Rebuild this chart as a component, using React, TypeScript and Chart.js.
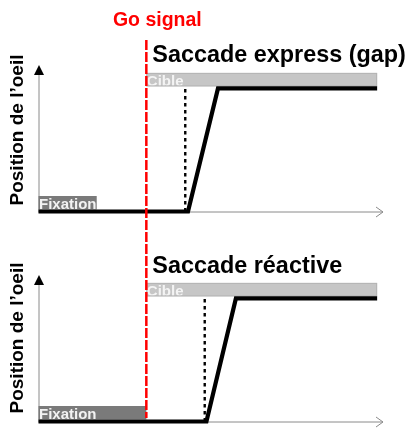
import React, { useEffect, useRef } from "react";
import { Chart, registerables } from "chart.js";
Chart.register(...registerables);

// ---- data (time in arbitrary units 0..100, eye position 0 = fixation, 1 = target) ----
const TIME_MAX = 100;
const POS_MAX = 1.19;
const GO_SIGNAL = 31.3;
const TARGET_END = 98.3;

const expressTimes = [0, 43.4, 52.1, 98.3];
const expressPositions = [0, 0, 1, 1];
const expressLatency = 42.6;
const expressFixationEnd = 16.9;

const reactiveTimes = [0, 48.75, 57.3, 98.3];
const reactivePositions = [0, 0, 1, 1];
const reactiveLatency = 48.25;
const reactiveFixationEnd = GO_SIGNAL;

const panelTitles = ["Saccade express (gap)", "Saccade réactive"];
const yAxisLabel = "Position de l\u2019oeil";
const goLabel = "Go signal";
const fixationLabel = "Fixation";
const targetLabel = "Cible";

const FONT = "'Liberation Sans', Arial, Helvetica, sans-serif";

type PanelProps = {
  width: number;
  height: number;
  padding: { left: number; right: number; top: number; bottom: number };
  times: number[];
  positions: number[];
  latency: number;
  fixationEnd: number;
  title: string;
  titleBaseline: number;
  yLabelCenter: number;
  showGo: boolean;
  redTop: number;
  redBottom: number;
  dashOffset: number;
};

function Panel(p: PanelProps) {
  const ref = useRef<HTMLCanvasElement | null>(null);
  useEffect(() => {
    if (!ref.current) return;
    const plugin = {
      id: "panelDecor",
      beforeDatasetsDraw(chart: any) {
        const { ctx, chartArea, scales } = chart;
        const x = scales.x;
        const y = scales.y;
        ctx.save();
        // axes
        ctx.strokeStyle = "#8a8a8a";
        ctx.lineWidth = 1;
        ctx.beginPath();
        ctx.moveTo(chartArea.left + 0.5, chartArea.bottom + 0.5);
        ctx.lineTo(chartArea.left + 0.5, chartArea.top + 8);
        ctx.moveTo(chartArea.left, chartArea.bottom + 0.5);
        ctx.lineTo(chartArea.right, chartArea.bottom + 0.5);
        ctx.stroke();
        // x arrow chevron
        ctx.beginPath();
        ctx.moveTo(chartArea.right - 7, chartArea.bottom - 4.5);
        ctx.lineTo(chartArea.right, chartArea.bottom + 0.5);
        ctx.lineTo(chartArea.right - 7, chartArea.bottom + 5.5);
        ctx.stroke();
        // y arrow head
        ctx.fillStyle = "#000";
        ctx.beginPath();
        ctx.moveTo(chartArea.left + 0.5, chartArea.top);
        ctx.lineTo(chartArea.left + 5.5, chartArea.top + 10);
        ctx.lineTo(chartArea.left - 4.5, chartArea.top + 10);
        ctx.closePath();
        ctx.fill();

        // boxes
        const boxH = 13.5;
        const drawBox = (x0: number, x1: number, level: number, fill: string, text: string, textColor: string) => {
          const l = x.getPixelForValue(x0);
          const r = x.getPixelForValue(x1);
          const b = y.getPixelForValue(level) - 2;
          ctx.fillStyle = fill;
          ctx.fillRect(l, b - boxH, r - l, boxH);
          ctx.fillStyle = textColor;
          ctx.font = `bold 15px ${FONT}`;
          ctx.textAlign = "left";
          ctx.textBaseline = "alphabetic";
          ctx.fillText(text, l + 0.5, b - 0.5);
        };
        drawBox(0, p.fixationEnd, 0, "#7a7a7a", fixationLabel, "#f2f2f2");
        drawBox(GO_SIGNAL, TARGET_END, 1, "#c6c6c6", targetLabel, "#f4f4f4");
        ctx.strokeStyle = "#b4b4b4";
        ctx.lineWidth = 1;
        {
          const l = x.getPixelForValue(GO_SIGNAL);
          const r = x.getPixelForValue(TARGET_END);
          const b = y.getPixelForValue(1) - 2;
          ctx.strokeRect(l + 0.5, b - boxH + 0.5, r - l - 1, boxH - 1);
        }

        // title
        ctx.fillStyle = "#000";
        ctx.font = `bold 23.4px ${FONT}`;
        ctx.textAlign = "left";
        ctx.textBaseline = "alphabetic";
        ctx.fillText(p.title, x.getPixelForValue(GO_SIGNAL) + 6, p.titleBaseline);

        // y label
        ctx.save();
        ctx.translate(18, p.yLabelCenter);
        ctx.rotate(-Math.PI / 2);
        ctx.font = `bold 19px ${FONT}`;
        ctx.textAlign = "center";
        ctx.textBaseline = "middle";
        ctx.fillText(yAxisLabel, 0, 0);
        ctx.restore();

        // go signal label
        if (p.showGo) {
          ctx.fillStyle = "#ff0000";
          ctx.font = `bold 19.5px ${FONT}`;
          ctx.textAlign = "center";
          ctx.textBaseline = "alphabetic";
          ctx.fillText(goLabel, x.getPixelForValue(GO_SIGNAL) + 11, 25.5);
        }
        ctx.restore();
      },
      afterDatasetsDraw(chart: any) {
        const { ctx, scales } = chart;
        const gx = scales.x.getPixelForValue(GO_SIGNAL);
        ctx.save();
        ctx.strokeStyle = "#ff0000";
        ctx.lineWidth = 2.5;
        ctx.setLineDash([10, 2]);
        ctx.lineDashOffset = p.dashOffset;
        ctx.beginPath();
        ctx.moveTo(gx, p.redTop);
        ctx.lineTo(gx, p.redBottom);
        ctx.stroke();
        ctx.restore();
      },
    };

    const chart = new Chart(ref.current, {
      type: "line",
      data: {
        datasets: [
          {
            data: p.times.map((t, i) => ({ x: t, y: p.positions[i] })),
            borderColor: "#000",
            borderWidth: 4.2,
            pointRadius: 0,
            tension: 0,
            borderJoinStyle: "miter",
            borderCapStyle: "butt",
            clip: false,
          } as any,
          {
            data: [
              { x: p.latency, y: 0 },
              { x: p.latency, y: 1 },
            ],
            borderColor: "#000",
            borderWidth: 2.4,
            borderDash: [3.5, 3.5],
            pointRadius: 0,
            clip: false,
          } as any,
        ],
      },
      options: {
        responsive: false,
        animation: false,
        devicePixelRatio: 1,
        layout: { padding: p.padding },
        plugins: { legend: { display: false }, tooltip: { enabled: false } },
        events: [],
        scales: {
          x: { type: "linear", min: 0, max: TIME_MAX, display: false },
          y: { type: "linear", min: 0, max: POS_MAX, display: false },
        },
      },
      plugins: [plugin],
    });
    return () => chart.destroy();
  }, []);
  return <canvas ref={ref} width={p.width} height={p.height} style={{ display: "block", width: p.width, height: p.height }} />;
}

export default function App() {
  return (
    <div style={{ position: "absolute", left: 0, top: 0, width: 410, height: 429, background: "#fff" }}>
      <Panel
        width={410}
        height={230}
        padding={{ left: 38.5, right: 27, top: 65, bottom: 18.5 }}
        times={expressTimes}
        positions={expressPositions}
        latency={expressLatency}
        fixationEnd={expressFixationEnd}
        title={panelTitles[0]}
        titleBaseline={61.5}
        yLabelCenter={130}
        showGo={true}
        redTop={40}
        redBottom={230}
        dashOffset={0}
      />
      <Panel
        width={410}
        height={199}
        padding={{ left: 38.5, right: 27, top: 45, bottom: 7.5 }}
        times={reactiveTimes}
        positions={reactivePositions}
        latency={reactiveLatency}
        fixationEnd={reactiveFixationEnd}
        title={panelTitles[1]}
        titleBaseline={43}
        yLabelCenter={108}
        showGo={false}
        redTop={0}
        redBottom={188}
        dashOffset={190}
      />
    </div>
  );
}
